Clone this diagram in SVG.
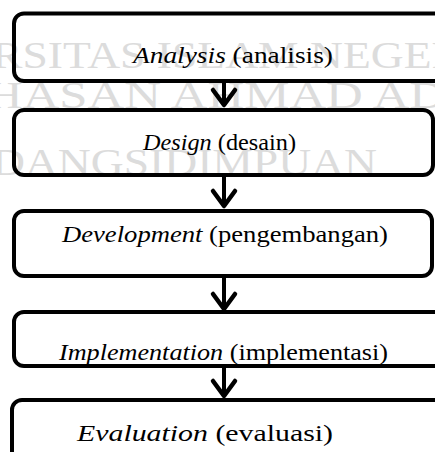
<svg xmlns="http://www.w3.org/2000/svg" width="435" height="452" viewBox="0 0 435 452">
<style>
.box{fill:none;stroke:#000;stroke-width:4}
.lbl{font-family:"Liberation Serif","Times New Roman",serif;font-size:24px;fill:#000}
.wm{font-family:"Liberation Serif","Times New Roman",serif;font-size:38px;fill:#dcdcdc}
.conn{stroke:#000;stroke-width:4;fill:none}
</style>
<defs>
<marker id="chev" markerUnits="userSpaceOnUse" markerWidth="30" markerHeight="30" refX="0" refY="0" viewBox="-20 -15 24 30" orient="auto">
<path d="M-15,-11 L0,0 L-15,11" fill="none" stroke="#000" stroke-width="4.5" stroke-linecap="round" stroke-linejoin="round"/>
</marker>
</defs>
<g id="watermark">
<text class="wm" x="-8" y="68" textLength="470" lengthAdjust="spacingAndGlyphs">RSITAS ISLAM NEGER</text>
<text class="wm" x="-14" y="108" textLength="460" lengthAdjust="spacingAndGlyphs">HASAN AHMAD AD</text>
<text class="wm" x="-8" y="175" textLength="385" lengthAdjust="spacingAndGlyphs">DANGSIDIMPUAN</text>
</g>
<g id="connectors">
<path class="conn" d="M224,83 L224,105" marker-end="url(#chev)"/>
<path class="conn" d="M224,177 L224,206" marker-end="url(#chev)"/>
<path class="conn" d="M224,278 L224,309" marker-end="url(#chev)"/>
<path class="conn" d="M224,368 L224,396" marker-end="url(#chev)"/>
</g>
<g id="analysis">
<rect class="box" x="14" y="13.5" width="440" height="67.5" rx="10"/>
<text class="lbl" x="133" y="63" textLength="200" lengthAdjust="spacingAndGlyphs"><tspan font-style="italic">Analysis</tspan> (analisis)</text>
</g>
<g id="design">
<rect class="box" x="14" y="110" width="419" height="65" rx="10"/>
<text class="lbl" x="143" y="150" textLength="153" lengthAdjust="spacingAndGlyphs"><tspan font-style="italic">Design</tspan> (desain)</text>
</g>
<g id="development">
<rect class="box" x="14" y="211" width="418" height="65" rx="10"/>
<text class="lbl" x="62" y="242" textLength="326" lengthAdjust="spacingAndGlyphs"><tspan font-style="italic">Development</tspan> (pengembangan)</text>
</g>
<g id="implementation">
<rect class="box" x="14" y="312" width="440" height="54" rx="10"/>
<text class="lbl" x="59" y="360" textLength="329" lengthAdjust="spacingAndGlyphs"><tspan font-style="italic">Implementation</tspan> (implementasi)</text>
</g>
<g id="evaluation">
<rect class="box" x="12" y="400" width="440" height="80" rx="10"/>
<text class="lbl" x="77" y="441" textLength="256" lengthAdjust="spacingAndGlyphs"><tspan font-style="italic">Evaluation</tspan> (evaluasi)</text>
</g>
</svg>
